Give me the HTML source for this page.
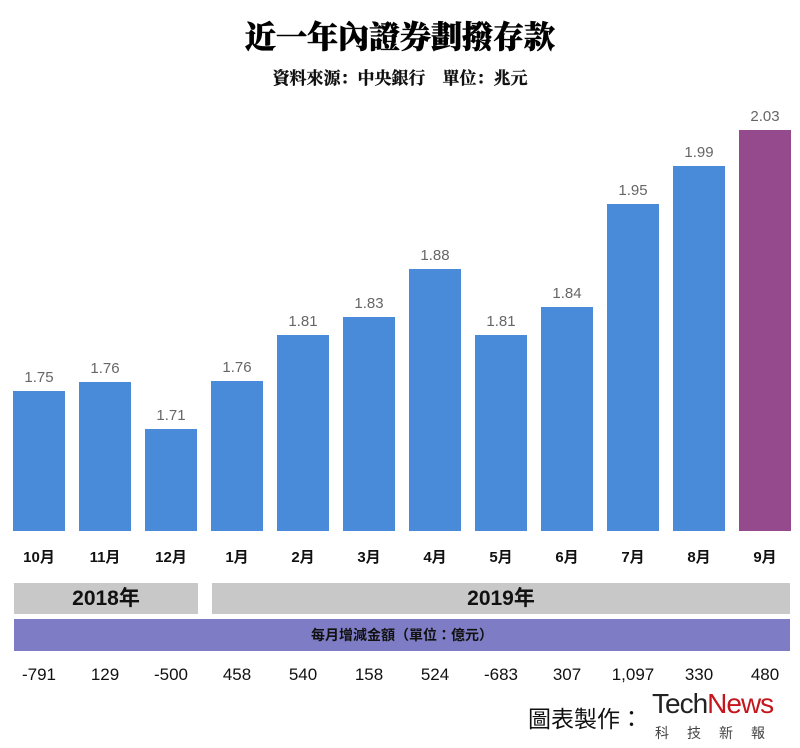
<!DOCTYPE html><html><head><meta charset="utf-8"><style>
body{margin:0;width:800px;height:748px;background:#fff;position:relative;overflow:hidden;font-family:"Liberation Sans","Noto Sans CJK TC",sans-serif}
.a{position:absolute}
.bar{position:absolute;width:52px;background:#4a8bd9}
.v{position:absolute;width:52px;text-align:center;font-size:15px;color:#666}
.m{position:absolute;width:52px;text-align:center;font-size:15px;color:#111;top:546px;font-weight:bold}
.n{position:absolute;width:60px;text-align:center;font-size:17px;color:#111;top:665px}
</style></head><body>
<div class="a" style="left:0;width:800px;top:12px;text-align:center;font-family:'Noto Serif CJK SC',serif;font-weight:900;font-size:31px;color:#000;-webkit-text-stroke:0.6px #000">近一年內證券劃撥存款</div>
<div class="a" style="left:0;width:800px;top:64px;text-align:center;font-weight:bold;font-size:17px;color:#111;font-family:'Noto Serif CJK SC',serif;-webkit-text-stroke:0.3px #000">資料來源：中央銀行　單位：兆元</div>
<div id="c"></div>
<div class="a" style="left:14px;top:583px;width:184px;height:31px;background:#c8c8c8;text-align:center;font-size:21px;line-height:31px;color:#111;font-weight:bold">2018年</div>
<div class="a" style="left:212px;top:583px;width:578px;height:31px;background:#c8c8c8;text-align:center;font-size:21px;line-height:31px;color:#111;font-weight:bold">2019年</div>
<div class="a" style="left:14px;top:619px;width:776px;height:32px;background:#7d7cc4;text-align:center;font-size:14px;line-height:32px;font-weight:bold;color:#111">每月增減金額（單位：億元）</div>
<div class="a" style="left:528px;top:700px;font-size:23px;color:#111">圖表製作：</div>
<div class="a" style="left:652px;top:688px;font-size:28px;font-family:'Liberation Sans',sans-serif;letter-spacing:-1px"><span style="color:#222">Tech</span><span style="color:#c4161c">News</span></div>
<div class="a" style="left:655px;top:723px;font-size:14px;color:#444;letter-spacing:18px">科技新報</div>
<script>
var t=[391,382,429,381,335,317,269,335,307,204,166,130],v=["1.75","1.76","1.71","1.76","1.81","1.83","1.88","1.81","1.84","1.95","1.99","2.03"],
m=["10月","11月","12月","1月","2月","3月","4月","5月","6月","7月","8月","9月"],n=["-791","129","-500","458","540","158","524","-683","307","1,097","330","480"],h="";
for(var i=0;i<12;i++){var x=13+66*i;h+='<div class="bar" style="left:'+x+'px;top:'+t[i]+'px;height:'+(531-t[i])+'px;'+(i==11?'background:#964a8e':'')+'"></div><div class="v" style="left:'+x+'px;top:'+(t[i]-22)+'px">'+v[i]+'</div><div class="m" style="left:'+x+'px">'+m[i]+'</div><div class="n" style="left:'+(x-4)+'px">'+n[i]+'</div>';}
document.getElementById("c").innerHTML=h;
</script>
</body></html>
